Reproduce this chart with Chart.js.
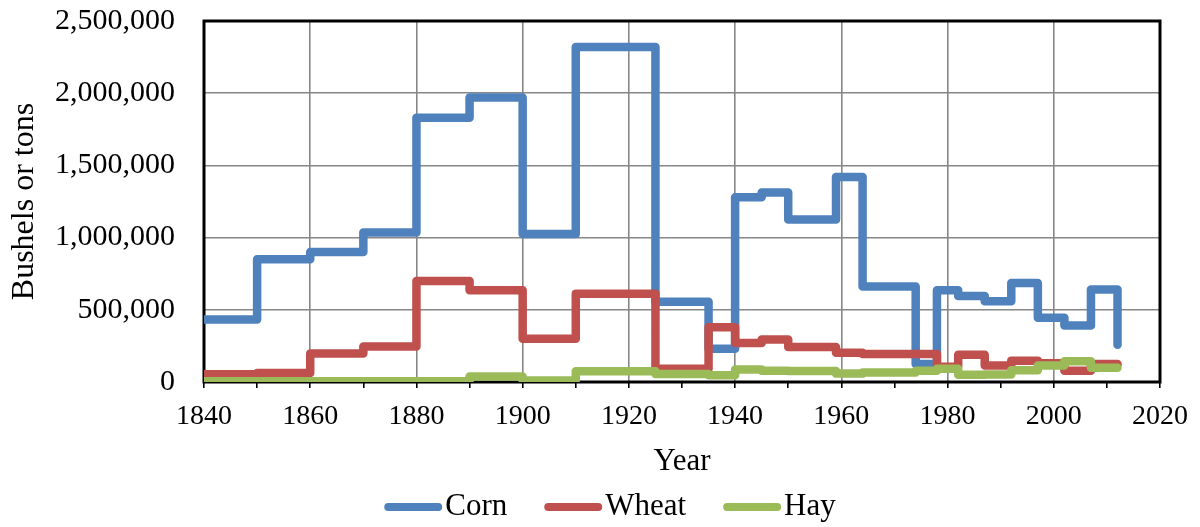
<!DOCTYPE html>
<html>
<head>
<meta charset="utf-8">
<script src="https://cdn.jsdelivr.net/npm/chart.js@4"></script>
<style>
  html, body { margin: 0; padding: 0; background: #fff; }
  #wrap { width: 1200px; height: 527px; }
</style>
</head>
<body>
<div id="wrap"><canvas id="chart" width="1200" height="527"></canvas></div>
<script>
// Years where each step starts (shared by all three series)
const years = [1840, 1850, 1860, 1870, 1880, 1890, 1900, 1910, 1925, 1935, 1940, 1945,
  1950, 1959, 1964, 1974, 1978, 1982, 1987, 1992, 1997, 2002, 2007, 2012];

const corn = [432000, 850000, 900000, 1035000, 1830000, 1970000, 1025000, 2320000, 555000,
  230000, 1280000, 1312000, 1125000, 1420000, 662000, 125000, 635000, 595000, 560000,
  685000, 445000, 392000, 640000, 258000];

const wheat = [53000, 62000, 198000, 246000, 700000, 635000, 300000, 612000, 92000,
  380000, 270000, 295000, 242000, 202000, 194000, 194000, 106000, 188000, 115000,
  148000, 130000, 78000, 125000, 118000];

const hay = [5000, 5000, 5000, 5000, 5000, 38000, 10000, 75000, 55000, 46000, 86000,
  78000, 76000, 58000, 66000, 78000, 92000, 50000, 52000, 82000, 115000, 143000,
  98000, 98000];

const seriesNames = ["Corn", "Wheat", "Hay"];
const seriesColors = ["#4F81BD", "#C0504D", "#9BBB59"];

const yTicks = [0, 500000, 1000000, 1500000, 2000000, 2500000];

const FONT = "'Liberation Serif', 'Times New Roman', serif";

function toPoints(values) {
  return values.map((v, i) => ({ x: years[i], y: v }));
}

// black box round the plot area, drawn under the lines
const framePlugin = {
  id: "frame",
  beforeDatasetsDraw(chart) {
    const { ctx, chartArea: a } = chart;
    ctx.save();
    ctx.strokeStyle = "#000";
    ctx.lineWidth = 3;
    ctx.strokeRect(a.left, a.top, a.right - a.left, a.bottom - a.top);
    ctx.restore();
  }
};

// legend drawn by hand so the line sample sits close to its text
const legendPlugin = {
  id: "lineLegend",
  afterDraw(chart) {
    const { ctx } = chart;
    const lineLen = 50;
    const gap = 7;
    const itemGap = 33;
    const y = 507;
    ctx.save();
    ctx.font = "31px " + FONT;
    const widths = chart.data.datasets.map(ds => 4 + lineLen + 4 + gap + ctx.measureText(ds.label).width);
    const total = widths.reduce((s, w) => s + w, 0) + itemGap * (widths.length - 1);
    let x = 612 - total / 2;
    chart.data.datasets.forEach((ds, i) => {
      ctx.strokeStyle = ds.borderColor;
      ctx.lineWidth = 8;
      ctx.lineCap = "round";
      ctx.beginPath();
      ctx.moveTo(x + 4, y);
      ctx.lineTo(x + 4 + lineLen, y);
      ctx.stroke();
      ctx.fillStyle = "#000";
      ctx.textBaseline = "middle";
      ctx.fillText(ds.label, x + 4 + lineLen + 4 + gap - 4, y);
      x += widths[i] + itemGap;
    });
    ctx.restore();
  }
};

// later series sit on top, like the original
const datasets = [corn, wheat, hay].map((vals, i) => ({
  label: seriesNames[i],
  data: toPoints(vals),
  order: 3 - i,
  borderColor: seriesColors[i],
  backgroundColor: seriesColors[i],
  borderWidth: 8.5,
  borderCapStyle: "round",
  borderJoinStyle: "round",
  stepped: "before",
  pointRadius: 0,
  fill: false
}));

new Chart(document.getElementById("chart"), {
  type: "line",
  data: { datasets: datasets },
  options: {
    responsive: false,
    animation: false,
    layout: { padding: { top: 21, right: 40, left: 5, bottom: 47 } },
    plugins: {
      legend: { display: false },
      tooltip: { enabled: false }
    },
    scales: {
      x: {
        type: "linear",
        min: 1840,
        max: 2020,
        afterFit(scale) {
          scale.height = 98;
          scale.paddingLeft = 0;
          scale.paddingRight = 0;
        },
        afterBuildTicks(scale) {
          const t = [];
          for (let v = 1840; v <= 2020; v += 10) t.push({ value: v });
          scale.ticks = t;
        },
        border: { display: false },
        grid: {
          color: c => (c.tick && c.tick.value % 20 === 0) ? "#878787" : "rgba(0,0,0,0)",
          lineWidth: 1.6,
          tickColor: "#000",
          tickWidth: 1.6,
          tickLength: 6
        },
        ticks: {
          autoSkip: false,
          maxRotation: 0,
          padding: 12,
          color: "#000",
          font: { family: FONT, size: 28 },
          callback: v => (v % 20 === 0 ? String(v) : "")
        },
        title: {
          display: true,
          text: "Year",
          color: "#000",
          padding: 0,
          font: { family: FONT, size: 31 }
        }
      },
      y: {
        min: 0,
        max: 2500000,
        afterFit(scale) {
          scale.width = 199;
          scale.paddingTop = 0;
          scale.paddingBottom = 0;
        },
        afterBuildTicks(scale) {
          scale.ticks = yTicks.map(v => ({ value: v }));
        },
        border: { display: false },
        grid: {
          color: "#878787",
          lineWidth: 1.6,
          drawTicks: false
        },
        ticks: {
          padding: 29,
          color: "#000",
          font: { family: FONT, size: 30 },
          callback: v => Number(v).toLocaleString("en-US")
        },
        title: {
          display: true,
          text: "Bushels or tons",
          color: "#000",
          padding: 0,
          font: { family: FONT, size: 32 }
        }
      }
    }
  },
  plugins: [framePlugin, legendPlugin]
});
</script>
</body>
</html>
